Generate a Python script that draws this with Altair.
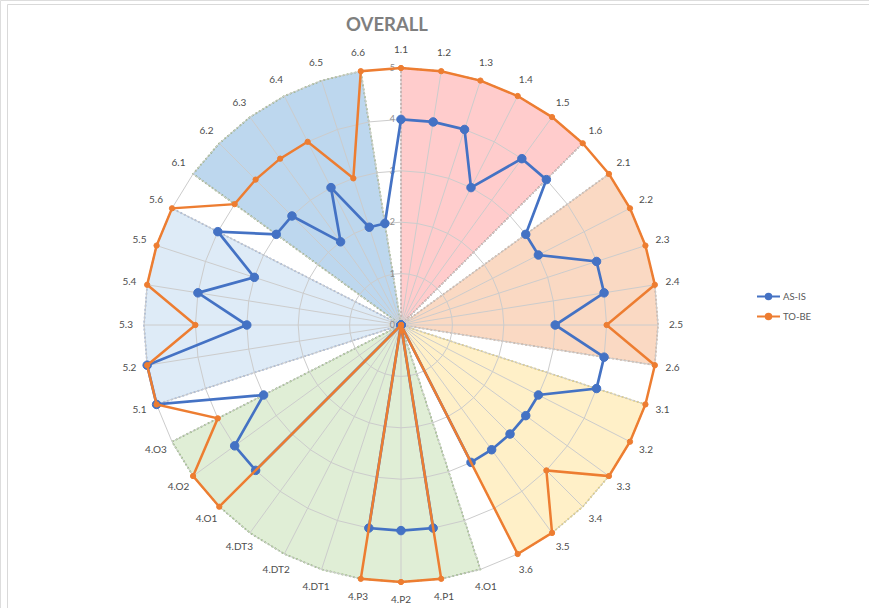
import altair as alt
import pandas as pd

# ---------------- data ----------------
categories = ["1.1", "1.2", "1.3", "1.4", "1.5", "1.6",
              "2.1", "2.2", "2.3", "2.4", "2.5", "2.6",
              "3.1", "3.2", "3.3", "3.4", "3.5", "3.6",
              "4.O1", "4.P1", "4.P2", "4.P3", "4.DT1", "4.DT2", "4.DT3", "4.O1", "4.O2", "4.O3",
              "5.1", "5.2", "5.3", "5.4", "5.5", "5.6",
              "6.1", "6.2", "6.3", "6.4", "6.5", "6.6"]
as_is = [4, 4, 4, 3, 4, 4,
         3, 3, 4, 4, 3, 4,
         4, 3, 3, 3, 3, 3,
         0, 4, 4, 4, 0, 0, 0, 4, 4, 3,
         5, 5, 3, 4, 3, 4,
         3, 3, 2, 3, 2, 2]
to_be = [5, 5, 5, 5, 5, 5,
         5, 5, 5, 5, 4, 5,
         5, 5, 5, 4, 5, 5,
         0, 5, 5, 5, 0, 0, 0, 5, 5, 4,
         5, 5, 4, 5, 5, 5,
         4, 4, 4, 4, 3, 5]
series_names = ["AS-IS", "TO-BE"]
series_colors = ["#4472C4", "#ED7D31"]
series_marker_sizes = [72, 28]
ticks = [0, 1, 2, 3, 4, 5]
group_names = ["1", "2", "3", "4", "5", "6"]
group_fills = ["#FFCCCC", "#FAD9C3", "#FFF0C8", "#E0EED6", "#DEEBF7", "#BDD7EE"]
group_edges = ["#B9948F", "#C8A48C", "#E2C74E", "#7FAE5E", "#8EA9D6", "#86A86C"]
title_text = "OVERALL"

FONT = "Lato"
N = len(categories)
VMAX = ticks[-1]
PX_PER_UNIT = 51.4
CX, CY = 401.0, 325.0
W, H = 869, 608

# ---------------- tables built from the arrays ----------------
groups = [c.split(".")[0] for c in categories]

series_rows = []
for s, vals in zip(series_names, [as_is, to_be]):
    for i, v in enumerate(vals):
        series_rows.append({"series": s, "idx": i, "value": v, "cat": categories[i]})
series_df = pd.DataFrame(series_rows)

sector_rows = []
for g in group_names:
    members = [i for i, gg in enumerate(groups) if gg == g]
    sector_rows.append({"group": g, "ord": 0, "idx": members[0], "value": 0})
    for k, i in enumerate(members):
        sector_rows.append({"group": g, "ord": k + 1, "idx": i, "value": VMAX})
sector_df = pd.DataFrame(sector_rows)

ring_df = pd.DataFrame([{"ring": t, "idx": i, "value": t}
                        for t in ticks[1:] for i in range(N)])
spoke_df = pd.DataFrame([{"idx": i, "value": VMAX} for i in range(N)])
label_df = pd.DataFrame([{"idx": i, "cat": c, "value": VMAX * 1.07}
                         for i, c in enumerate(categories)])
tick_df = pd.DataFrame([{"idx": 0, "value": t, "lab": str(t)} for t in ticks])

# ---------------- scales ----------------
xdom = [-CX / PX_PER_UNIT, (W - CX) / PX_PER_UNIT]
ydom = [-(H - CY) / PX_PER_UNIT, CY / PX_PER_UNIT]
X = alt.X("px:Q", scale=alt.Scale(domain=xdom, nice=False, zero=False), axis=None)
Y = alt.Y("py:Q", scale=alt.Scale(domain=ydom, nice=False, zero=False), axis=None)
color_scale = alt.Scale(domain=series_names, range=series_colors)


def polar(ch):
    return ch.transform_calculate(
        ang=f"datum.idx * 2 * PI / {N}"
    ).transform_calculate(
        px="datum.value * sin(datum.ang)",
        py="datum.value * cos(datum.ang)",
    )


layers = []

# frame lines
layers.append(alt.Chart(pd.DataFrame({"k": [0]})).mark_rule(color="#D9D9D9", strokeWidth=1).encode(
    x=alt.value(7.5), x2=alt.value(W), y=alt.value(4.5), y2=alt.value(4.5)))
layers.append(alt.Chart(pd.DataFrame({"k": [0]})).mark_rule(color="#D9D9D9", strokeWidth=1).encode(
    x=alt.value(7.5), x2=alt.value(7.5), y=alt.value(4.5), y2=alt.value(H)))

# shaded sectors
for g, f, e in zip(group_names, group_fills, group_edges):
    layers.append(
        polar(alt.Chart(sector_df).transform_filter(alt.datum.group == g))
        .mark_line(fill=f, stroke=e, strokeWidth=1.6, strokeDash=[2, 2], interpolate="linear-closed")
        .encode(x=X, y=Y, order=alt.Order("ord:Q"))
    )

# grid rings and spokes
layers.append(
    polar(alt.Chart(ring_df))
    .mark_line(stroke="#CCCCCC", strokeWidth=1, interpolate="linear-closed")
    .encode(x=X, y=Y, detail="ring:N", order=alt.Order("idx:Q"))
)
layers.append(
    polar(alt.Chart(spoke_df))
    .mark_rule(stroke="#CCCCCC", strokeWidth=1)
    .encode(x=X, y=Y, x2=alt.datum(0), y2=alt.datum(0))
)

# category labels
layers.append(
    polar(alt.Chart(label_df))
    .mark_text(font=FONT, fontSize=10, color="#4D4D4D", align="center", baseline="middle")
    .encode(x=X, y=Y, text="cat:N")
)

# radial value labels
layers.append(
    polar(alt.Chart(tick_df))
    .mark_text(font=FONT, fontSize=9, color="#8C8C8C", align="right", baseline="middle", dx=-6)
    .encode(x=X, y=Y, text="lab:N")
)

legend_symbol = "M-1,0H1M0.24,0A0.24,0.24,0,1,1,-0.24,0A0.24,0.24,0,1,1,0.24,0Z"
leg = alt.Legend(title=None, orient="none", legendX=756, legendY=284,
                 symbolType=legend_symbol, symbolSize=529, symbolStrokeWidth=2,
                 labelFont=FONT, labelFontSize=9.5, labelColor="#595959",
                 labelOffset=2, rowPadding=0, padding=0)

for k, s in enumerate(series_names):
    sw = 2.7 if k == 0 else 2.5
    sub = polar(alt.Chart(series_df).transform_filter(alt.datum.series == s))
    layers.append(
        sub.mark_line(stroke=series_colors[k], strokeWidth=sw, interpolate="linear-closed")
        .encode(x=X, y=Y, order=alt.Order("idx:Q"))
    )
    layers.append(
        sub.mark_point(filled=True, opacity=1, strokeWidth=1, shape="circle",
                       size=series_marker_sizes[k])
        .encode(x=X, y=Y,
                fill=alt.Fill("series:N", scale=color_scale, legend=leg),
                stroke=alt.Stroke("series:N", scale=color_scale, legend=leg))
    )

# title
layers.append(
    alt.Chart(pd.DataFrame({"t": [title_text]}))
    .mark_text(font=FONT, fontSize=18.5, fontWeight="bold", color="#7F7F7F", align="center", baseline="middle")
    .encode(x=alt.value(387), y=alt.value(25), text="t:N")
)

chart = alt.layer(*layers).properties(
    width=W, height=H, padding=0, autosize=alt.AutoSizeParams(type="none")
).configure_view(stroke=None).configure(background="white")

chart.save("out.html", embed_options={"renderer": "svg", "actions": False})
